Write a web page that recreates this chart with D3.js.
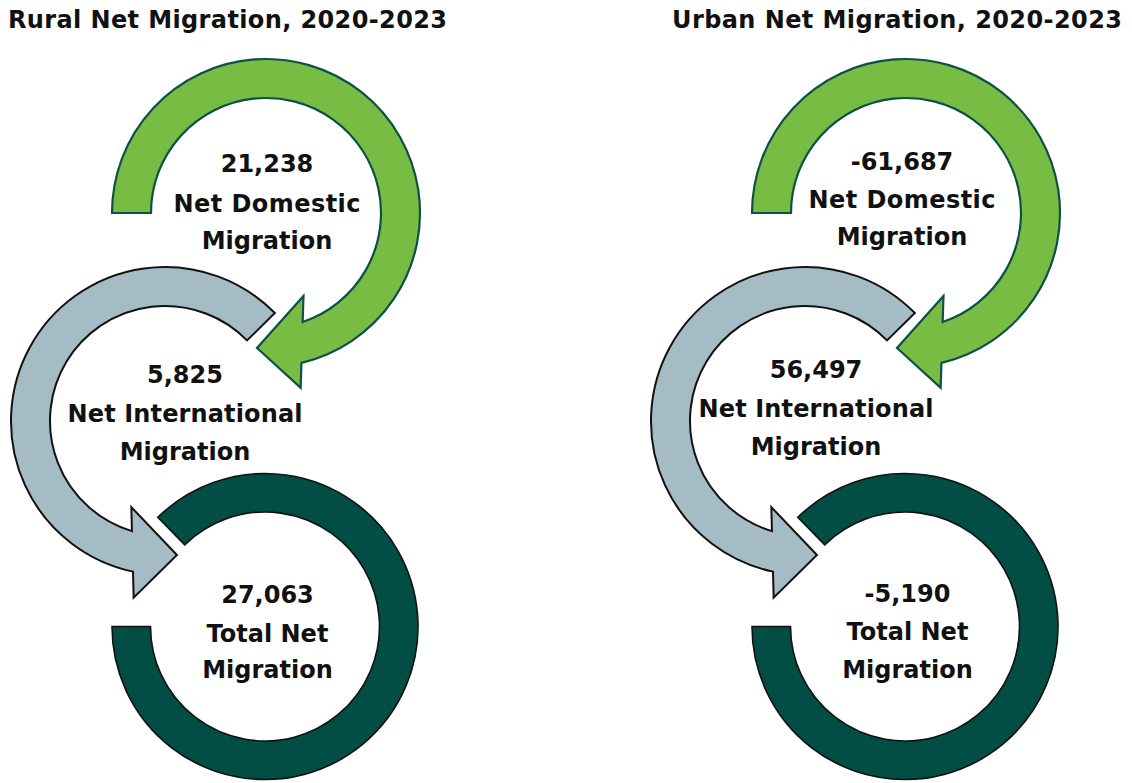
<!DOCTYPE html>
<html>
<head>
<meta charset="utf-8">
<script src="https://cdn.jsdelivr.net/npm/d3@7"></script>
<style>
  html, body { margin: 0; padding: 0; background: #fff; }
  svg { display: block; }
  text { font-family: "DejaVu Sans", sans-serif; font-weight: bold; fill: #111; }
</style>
</head>
<body>
<svg id="chart" width="1132" height="783"></svg>
<script>
// ---- data ----
const panels = ["Rural", "Urban"];
const titles = ["Rural Net Migration, 2020-2023", "Urban Net Migration, 2020-2023"];
const domestic = [21238, -61687];
const international = [5825, 56497];
const total = [27063, -5190];
const domesticLabel = ["Net Domestic", "Migration"];
const internationalLabel = ["Net International", "Migration"];
const totalLabel = ["Total Net", "Migration"];

// ---- layout ----
const svg = d3.select("#chart");
const fmt = d3.formatLocale({decimal: ".", thousands: ",", grouping: [3], currency: ["$", ""], minus: "-"}).format(",");
const rad = d => d * Math.PI / 180;
const panelX = d3.scalePoint().domain(panels).range([0, 640]);

const titlePos = [{x: 8, y: 28, w: 439}, {x: 672, y: 28, w: 450}];
const labelPos = {
  domestic: [{x: 267, y: [172, 212, 249], w: 187}, {x: 902, y: [170, 208, 245], w: 187}],
  international: [{x: 185, y: [383, 422, 460], w: 235}, {x: 816, y: [378, 417, 455], w: 235}],
  total: [{x: 267.5, y: [603, 642, 678]}, {x: 907.5, y: [602, 640, 678]}]
};

// circular arrow geometry (screen angles, degrees, clockwise from +x)
const greenSpec = {cx: 266, cy: 213, rIn: 115, rOut: 154, a0: 180, aInEnd: 71.4, aOutEnd: 76.7,
  ccw: false, extIn: 26, extOut: 25, tipA: 93.8, tipR: 135.3};
const graySpec = {cx: 165, cy: 421, rIn: 115, rOut: 154, a0: -44.5, aInEnd: 106.7, aOutEnd: 102,
  ccw: true, extIn: 24, extOut: 26, tipA: 84.9, tipR: 134.5};
const ringSpec = {cx: 265, cy: 626.5, rIn: 114.5, rOut: 153, start: -44.5, end: 270};

function arrowPath(s, dx) {
  const cx = s.cx + dx, cy = s.cy;
  const pt = (r, a) => [cx + r * Math.cos(rad(a)), cy + r * Math.sin(rad(a))];
  const p = d3.path();
  const so = pt(s.rOut, s.a0);
  p.moveTo(so[0], so[1]);
  p.arc(cx, cy, s.rOut, rad(s.a0), rad(s.aOutEnd), s.ccw);
  const Po = pt(s.rOut, s.aOutEnd), Pi = pt(s.rIn, s.aInEnd);
  let ux = Po[0] - Pi[0], uy = Po[1] - Pi[1];
  const L = Math.hypot(ux, uy); ux /= L; uy /= L;
  const bo = [Po[0] + ux * s.extOut, Po[1] + uy * s.extOut];
  const bi = [Pi[0] - ux * s.extIn, Pi[1] - uy * s.extIn];
  const tip = pt(s.tipR, s.tipA);
  p.lineTo(bo[0], bo[1]);
  p.lineTo(tip[0], tip[1]);
  p.lineTo(bi[0], bi[1]);
  p.lineTo(Pi[0], Pi[1]);
  p.arc(cx, cy, s.rIn, rad(s.aInEnd), rad(s.a0), !s.ccw);
  p.closePath();
  return p.toString();
}

const ringArc = d3.arc()
  .innerRadius(ringSpec.rIn)
  .outerRadius(ringSpec.rOut)
  .startAngle(rad(ringSpec.start))
  .endAngle(rad(ringSpec.end));

panels.forEach((name, i) => {
  const dx = panelX(name);
  const g = svg.append("g").attr("class", "panel-" + name);

  // total ring
  g.append("path")
    .attr("d", ringArc())
    .attr("transform", `translate(${ringSpec.cx + dx},${ringSpec.cy})`)
    .attr("fill", "#024e45")
    .attr("stroke", "#111")
    .attr("stroke-width", 1.6);

  // international arrow
  g.append("path")
    .attr("d", arrowPath(graySpec, dx))
    .attr("fill", "#a5bcc4")
    .attr("stroke", "#111")
    .attr("stroke-width", 2)
    .attr("stroke-linejoin", "miter");

  // domestic arrow
  g.append("path")
    .attr("d", arrowPath(greenSpec, dx))
    .attr("fill", "#78bc44")
    .attr("stroke", "#0d5046")
    .attr("stroke-width", 2.2)
    .attr("stroke-linejoin", "miter");

  // title
  svg.append("text")
    .attr("x", titlePos[i].x)
    .attr("y", titlePos[i].y)
    .attr("font-size", 24)
    .attr("textLength", titlePos[i].w)
    .attr("lengthAdjust", "spacing")
    .text(titles[i]);

  const addLabel = (pos, value, lines) => {
    const t = svg.append("g");
    [fmt(value), ...lines].forEach((s, k) => {
      const el = t.append("text")
        .attr("x", pos.x)
        .attr("y", pos.y[k])
        .attr("text-anchor", "middle")
        .attr("font-size", 24)
        .text(s);
      if (k === 1 && pos.w) el.attr("textLength", pos.w).attr("lengthAdjust", "spacing");
    });
  };
  addLabel(labelPos.domestic[i], domestic[i], domesticLabel);
  addLabel(labelPos.international[i], international[i], internationalLabel);
  addLabel(labelPos.total[i], total[i], totalLabel);
});
</script>
</body>
</html>
